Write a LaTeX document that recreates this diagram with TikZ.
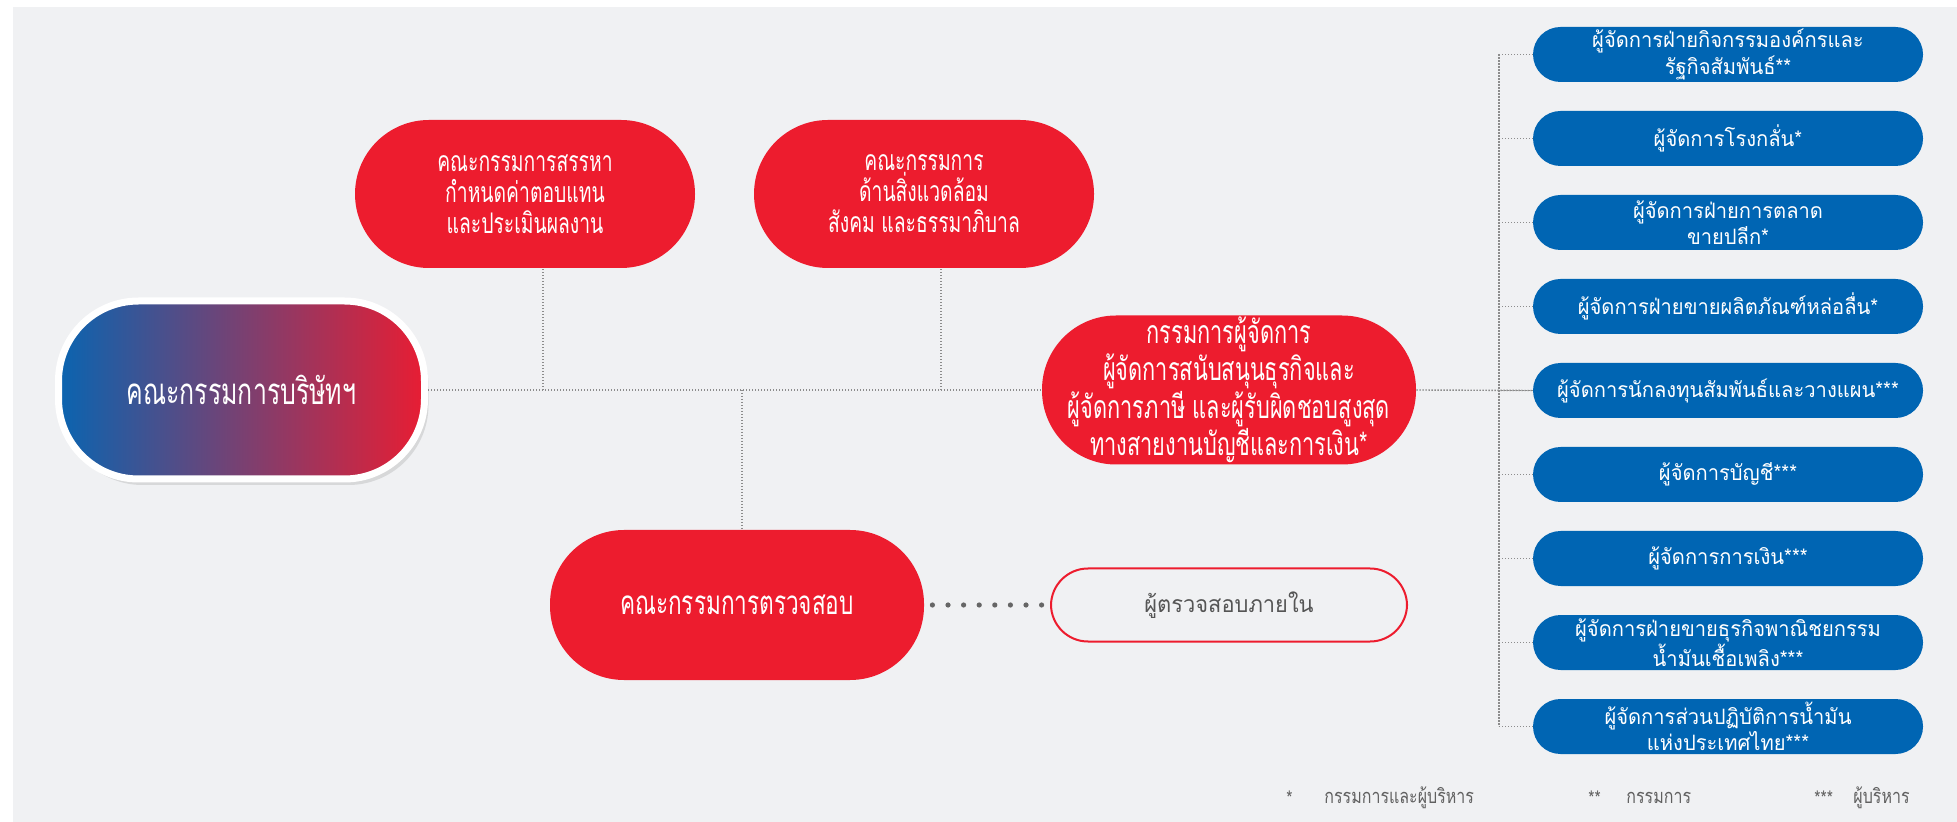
\documentclass[tikz,border=0pt]{standalone}
\usepackage{fontspec}
\newfontfamily\thaiC[Script=Thai, FakeStretch=0.68]{Loma}
\newfontfamily\thai[Script=Thai, FakeStretch=0.8]{Loma}
\newfontfamily\thaiB[Script=Thai, FakeStretch=0.95]{Loma}
\usetikzlibrary{shadows}
\definecolor{bgC}{HTML}{F0F1F3}
\definecolor{redC}{HTML}{ED1C2E}
\definecolor{blueC}{HTML}{0065B3}
\definecolor{gradL}{HTML}{0A64B0}
\definecolor{gradR}{HTML}{E81D33}
\definecolor{lineC}{HTML}{8C8C8C}
\definecolor{dotC}{HTML}{666666}
\definecolor{legC}{HTML}{606060}
\definecolor{iaC}{HTML}{555555}
\begin{document}
\begin{tikzpicture}[x=0.5pt,y=-0.5pt,
  redbox/.style={fill=redC, text=white, rounded corners=37pt, minimum width=170pt,
    minimum height=74pt, align=center, inner sep=0pt,
    font=\thaiC\fontsize{14.2}{15.5}\selectfont},
  ceobox/.style={redbox, minimum width=187pt, minimum height=74.5pt,
    font=\thaiC\fontsize{16}{14.6}\selectfont},
  bluebox/.style={fill=blueC, text=white, rounded corners=13.75pt, minimum width=195pt,
    minimum height=27.5pt, align=center, inner sep=0pt,
    font=\thaiB\fontsize{10.6}{10.8}\selectfont},
  mainbox/.style={left color=gradL, right color=gradR, draw=white, line width=3.5pt,
    rounded corners=40pt, minimum width=183pt, minimum height=89pt, text=white,
    inner sep=0pt, font=\thaiC\fontsize{18.3}{20}\selectfont,
    drop shadow={shadow xshift=2pt, shadow yshift=-3pt, opacity=0.22}},
  iabox/.style={draw=redC, line width=1pt, fill=bgC, rounded corners=18.5pt,
    minimum width=178pt, minimum height=36.5pt, text=iaC, inner sep=0pt,
    font=\thaiB\fontsize{11.5}{13}\selectfont},
  conn/.style={draw=lineC, line width=0.7pt, dash pattern=on 0.7pt off 0.8pt},
  auditdots/.style={draw=dotC, line width=2.6pt, line cap=round,
    dash pattern=on 0pt off 7.8pt},
  legend/.style={text=legC, anchor=west, inner sep=0pt,
    font=\thai\fontsize{10}{11}\selectfont}
]
\useasboundingbox (0,0) rectangle (1957,822);
\fill[bgC] (13,7) rectangle (1957,822);

% nodes
\node[mainbox] (board) at (241.5,390) {คณะกรรมการบริษัทฯ};
\node[redbox] (nom) at (525,194) {คณะกรรมการสรรหา\\กำหนดค่าตอบแทน\\และประเมินผลงาน};
\node[redbox] (esg) at (924,194) {คณะกรรมการ\\ด้านสิ่งแวดล้อม\\สังคม และธรรมาภิบาล};
\node[ceobox] (ceo) at (1229,390) {กรรมการผู้จัดการ\\ผู้จัดการสนับสนุนธุรกิจและ\\ผู้จัดการภาษี และผู้รับผิดชอบสูงสุด\\ทางสายงานบัญชีและการเงิน*};
\node[ceobox, minimum height=75pt, font=\thaiC\fontsize{16.6}{18}\selectfont] (audit) at (737,605) {คณะกรรมการตรวจสอบ};
\node[iabox] (ia) at (1229,605) {ผู้ตรวจสอบภายใน};

\node[bluebox] (r1) at (1728,54.5) {ผู้จัดการฝ่ายกิจกรรมองค์กรและ\\รัฐกิจสัมพันธ์**};
\node[bluebox] (r2) at (1728,138.5) {ผู้จัดการโรงกลั่น*};
\node[bluebox] (r3) at (1728,222.5) {ผู้จัดการฝ่ายการตลาด\\ขายปลีก*};
\node[bluebox] (r4) at (1728,306.5) {ผู้จัดการฝ่ายขายผลิตภัณฑ์หล่อลื่น*};
\node[bluebox] (r5) at (1728,390.5) {ผู้จัดการนักลงทุนสัมพันธ์และวางแผน***};
\node[bluebox] (r6) at (1728,474.5) {ผู้จัดการบัญชี***};
\node[bluebox] (r7) at (1728,558.5) {ผู้จัดการการเงิน***};
\node[bluebox] (r8) at (1728,642.5) {ผู้จัดการฝ่ายขายธุรกิจพาณิชยกรรม\\น้ำมันเชื้อเพลิง***};
\node[bluebox] (r9) at (1728,726.5) {ผู้จัดการส่วนปฏิบัติการน้ำมัน\\แห่งประเทศไทย***};

% junction coordinates
\coordinate (j1) at (543,390);
\coordinate (j2) at (941,390);
\coordinate (j3) at (742,390);
\coordinate (bus) at (1499,390);

% connectors
\draw[conn] (board.east) -- (ceo.west);
\draw[conn] (j1) -- (j1 |- nom.south);
\draw[conn] (j2) -- (j2 |- esg.south);
\draw[conn] (j3) -- (j3 |- audit.north);
\draw[conn] (ceo.east) -- (r5.west);
\draw[conn] (bus |- r1.west) -- (bus |- r9.west);
\foreach \r in {r1,r2,r3,r4,r5,r6,r7,r8,r9}{
  \draw[conn] (bus |- \r.west) -- (\r.west);
}
\draw[auditdots, shorten <=4pt, shorten >=3.5pt] (audit.east) -- (ia.west);

% legend
\node[legend] (l1s) at (1286,798) {*};
\node[legend] (l1) at (1324,798) {กรรมการและผู้บริหาร};
\node[legend] (l2s) at (1588,798) {**};
\node[legend] (l2) at (1626,798) {กรรมการ};
\node[legend] (l3s) at (1814,798) {***};
\node[legend] (l3) at (1853,798) {ผู้บริหาร};
\end{tikzpicture}
\end{document}
